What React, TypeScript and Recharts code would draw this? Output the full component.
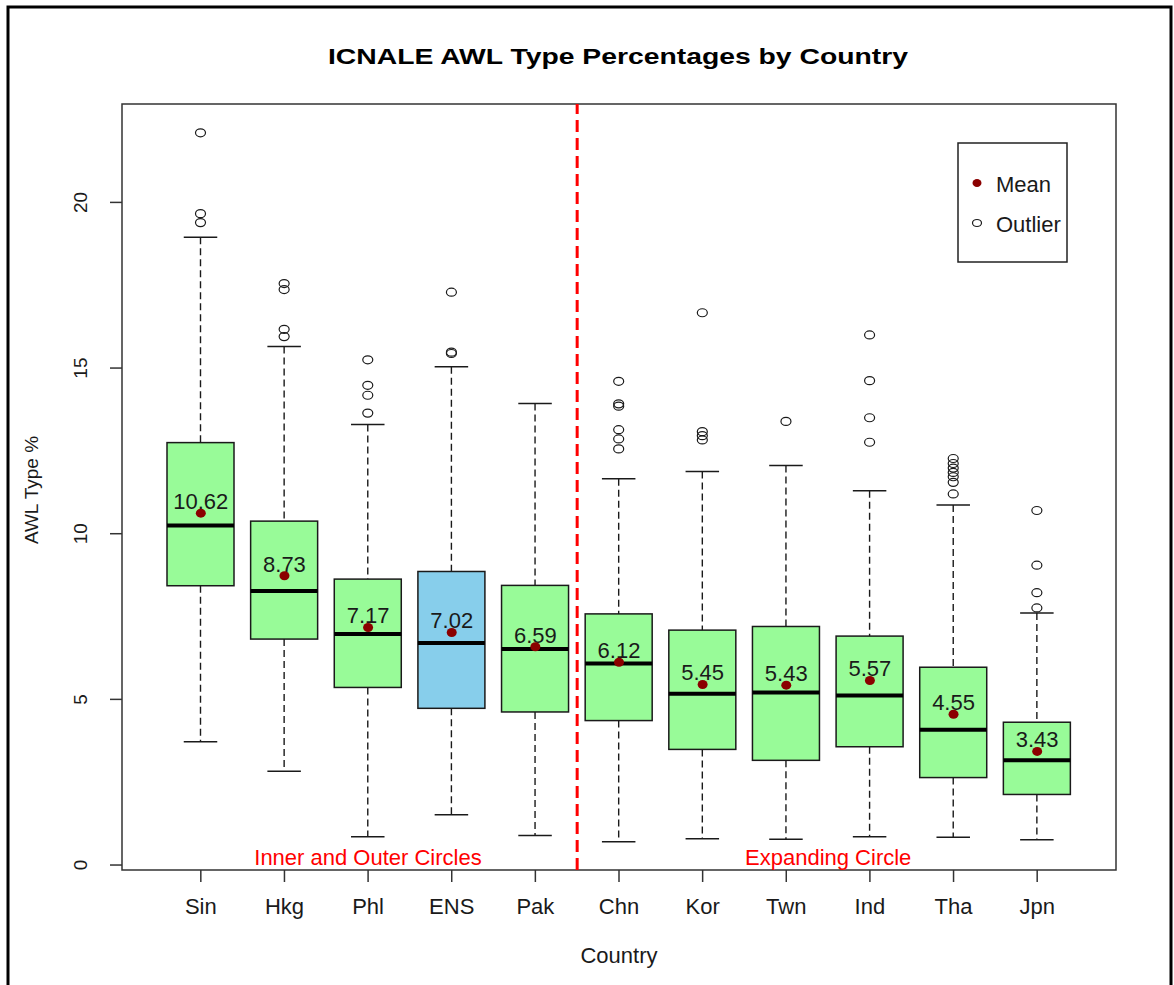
import React from 'react'
import {
  ComposedChart,
  Bar,
  Line,
  XAxis,
  YAxis,
  ReferenceLine,
  ReferenceArea,
  ReferenceDot,
} from 'recharts'

const countries = ['Sin', 'Hkg', 'Phl', 'ENS', 'Pak', 'Chn', 'Kor', 'Twn', 'Ind', 'Tha', 'Jpn']
const whiskerLow = [3.72, 2.83, 0.85, 1.52, 0.89, 0.7, 0.79, 0.78, 0.85, 0.84, 0.76]
const q1 = [8.43, 6.82, 5.36, 4.73, 4.62, 4.36, 3.49, 3.16, 3.57, 2.64, 2.13]
const medians = [10.25, 8.27, 6.97, 6.7, 6.52, 6.08, 5.17, 5.21, 5.12, 4.08, 3.16]
const q3 = [12.75, 10.38, 8.63, 8.86, 8.44, 7.58, 7.09, 7.2, 6.91, 5.97, 4.31]
const whiskerHigh = [18.95, 15.65, 13.3, 15.04, 13.93, 11.66, 11.88, 12.06, 11.3, 10.87, 7.61]
const means = [10.62, 8.73, 7.17, 7.02, 6.59, 6.12, 5.45, 5.43, 5.57, 4.55, 3.43]
const outliers = [
  [22.1, 19.66, 19.39],
  [17.55, 17.37, 16.17, 15.95],
  [15.25, 14.48, 14.18, 13.64],
  [17.29, 15.48, 15.44],
  [],
  [14.6, 13.92, 13.85, 13.14, 12.86, 12.56],
  [16.67, 13.08, 12.96, 12.83],
  [13.39],
  [16.0, 14.62, 13.5, 12.76],
  [12.27, 12.12, 11.98, 11.85, 11.72, 11.55, 11.2],
  [10.7, 9.05, 8.22, 7.76],
]
const yTicks = [0, 5, 10, 15, 20]
const regionLabels = [
  { x: 3, text: 'Inner and Outer Circles' },
  { x: 8.5, text: 'Expanding Circle' },
]

const data = countries.map((name, i) => ({
  name,
  pos: i + 1,
  range: [whiskerLow[i], whiskerHigh[i]],
  q1: q1[i],
  median: medians[i],
  q3: q3[i],
  mean: means[i],
  outliers: outliers[i],
}))

const FONT = '"Liberation Sans", Arial, sans-serif'
const INK = '#1a1a1a'

// box, whiskers, caps, median and outliers, all placed from the bar's own y/height
const BoxShape = (props: any) => {
  const { x, y, width, height, payload } = props
  const [lo, hi] = payload.range
  const py = (v: number) => y + (height * (hi - v)) / (hi - lo)
  const cx = x + width / 2
  const half = width / 4
  const fill = payload.name === 'ENS' ? '#87CEEB' : '#98FB98'
  return (
    <g>
      <line x1={cx} x2={cx} y1={py(hi)} y2={py(payload.q3)} stroke={INK} strokeWidth={1.4} strokeDasharray="7 4" />
      <line x1={cx} x2={cx} y1={py(payload.q1)} y2={py(lo)} stroke={INK} strokeWidth={1.4} strokeDasharray="7 4" />
      <line x1={cx - half} x2={cx + half} y1={py(hi)} y2={py(hi)} stroke={INK} strokeWidth={1.5} />
      <line x1={cx - half} x2={cx + half} y1={py(lo)} y2={py(lo)} stroke={INK} strokeWidth={1.5} />
      <rect
        x={x}
        y={py(payload.q3)}
        width={width}
        height={py(payload.q1) - py(payload.q3)}
        fill={fill}
        stroke={INK}
        strokeWidth={1.5}
      />
      <line x1={x} x2={x + width} y1={py(payload.median)} y2={py(payload.median)} stroke="#000" strokeWidth={4} />
      {payload.outliers.map((v: number, k: number) => (
        <ellipse key={k} cx={cx} cy={py(v)} rx={5} ry={4} fill="none" stroke={INK} strokeWidth={1.2} />
      ))}
    </g>
  )
}

const MeanDot = (p: any) => (
  <g key={`m${p.index}`}>
    <text x={p.cx} y={p.cy - 4} textAnchor="middle" fontSize={22} fontFamily={FONT} fill={INK}>
      {p.payload.mean.toFixed(2)}
    </text>
    <ellipse cx={p.cx} cy={p.cy} rx={5} ry={4.5} fill="#8B0000" />
  </g>
)

const XTick = (p: any) => (
  <text x={p.x} y={p.y + 22} textAnchor="middle" dominantBaseline="central" fontSize={22} fontFamily={FONT} fill={INK}>
    {p.payload.value}
  </text>
)

const YTick = (p: any) => (
  <text
    x={p.x - 27}
    y={p.y}
    textAnchor="middle"
    dominantBaseline="central"
    fontSize={19}
    fontFamily={FONT}
    fill={INK}
    transform={`rotate(-90 ${p.x - 27} ${p.y})`}
  >
    {p.payload.value}
  </text>
)

const RegionLabel = (text: string) => (p: any) => (
  <text
    x={p.viewBox.x + (p.viewBox.width || 0) / 2}
    y={p.viewBox.y + (p.viewBox.height || 0) / 2}
    textAnchor="middle"
    dominantBaseline="central"
    fontSize={22}
    fontFamily={FONT}
    fill="#ff0000"
  >
    {text}
  </text>
)

export default function App() {
  return (
    <div style={{ position: 'absolute', left: 0, top: 0, width: 1174, height: 985, background: '#fff', overflow: 'hidden' }}>
      <ComposedChart width={1174} height={985} data={data} margin={{ top: 104, right: 58, bottom: 0, left: 0 }}>
        <XAxis
          dataKey="name"
          type="category"
          padding={{ left: 37, right: 37 }}
          interval={0}
          axisLine={false}
          tickSize={12}
          tickLine={{ stroke: '#333', strokeWidth: 1.5 }}
          tick={<XTick />}
          height={115}
        />
        <XAxis
          xAxisId="num"
          dataKey="pos"
          type="number"
          domain={[0.06, 11.94]}
          allowDataOverflow
          hide
          height={115}
        />
        <YAxis
          type="number"
          domain={[-0.15, 22.97]}
          ticks={yTicks}
          allowDataOverflow
          axisLine={false}
          tickSize={12}
          tickLine={{ stroke: '#333', strokeWidth: 1.5 }}
          tick={<YTick />}
          width={122}
        />
        <ReferenceArea
          xAxisId="num"
          x1={0.06}
          x2={11.94}
          y1={-0.15}
          y2={22.97}
          fill="none"
          fillOpacity={0}
          stroke="#333"
          strokeWidth={1.5}
          ifOverflow="visible"
        />
        <Bar dataKey="range" barSize={67} shape={BoxShape} isAnimationActive={false} />
        <Line dataKey="mean" stroke="none" dot={MeanDot} activeDot={false} isAnimationActive={false} />
        <ReferenceLine xAxisId="num" x={5.5} stroke="#ff0000" strokeWidth={3} strokeDasharray="12 6" />
        {regionLabels.map((r) => (
          <ReferenceDot
            key={r.text}
            xAxisId="num"
            x={r.x}
            y={0.22}
            r={1}
            fill="none"
            stroke="none"
            label={RegionLabel(r.text)}
          />
        ))}
      </ComposedChart>
      <svg width={1174} height={985} style={{ position: 'absolute', left: 0, top: 0, pointerEvents: 'none' }}>
        <rect x={8} y={7} width={1163} height={1000} fill="none" stroke="#000" strokeWidth={3} />
        <text x={618} y={64} textAnchor="middle" fontSize={22} fontWeight="bold" fontFamily={FONT} fill="#000" textLength={580} lengthAdjust="spacingAndGlyphs">
          ICNALE AWL Type Percentages by Country
        </text>
        <text x={619} y={955} textAnchor="middle" dominantBaseline="central" fontSize={22} fontFamily={FONT} fill={INK}>
          Country
        </text>
        <text x={31} y={490} textAnchor="middle" dominantBaseline="central" fontSize={19} fontFamily={FONT} fill={INK} transform="rotate(-90 31 490)">
          AWL Type %
        </text>
        <rect x={958} y={143} width={109} height={119} fill="#fff" stroke="#222" strokeWidth={1.5} />
        <ellipse cx={977} cy={183} rx={4.5} ry={4} fill="#8B0000" />
        <text x={996} y={184} dominantBaseline="central" fontSize={22} fontFamily={FONT} fill={INK}>Mean</text>
        <ellipse cx={977} cy={223} rx={4.5} ry={3.5} fill="none" stroke={INK} strokeWidth={1.2} />
        <text x={996} y={224} dominantBaseline="central" fontSize={22} fontFamily={FONT} fill={INK}>Outlier</text>
      </svg>
    </div>
  )
}
